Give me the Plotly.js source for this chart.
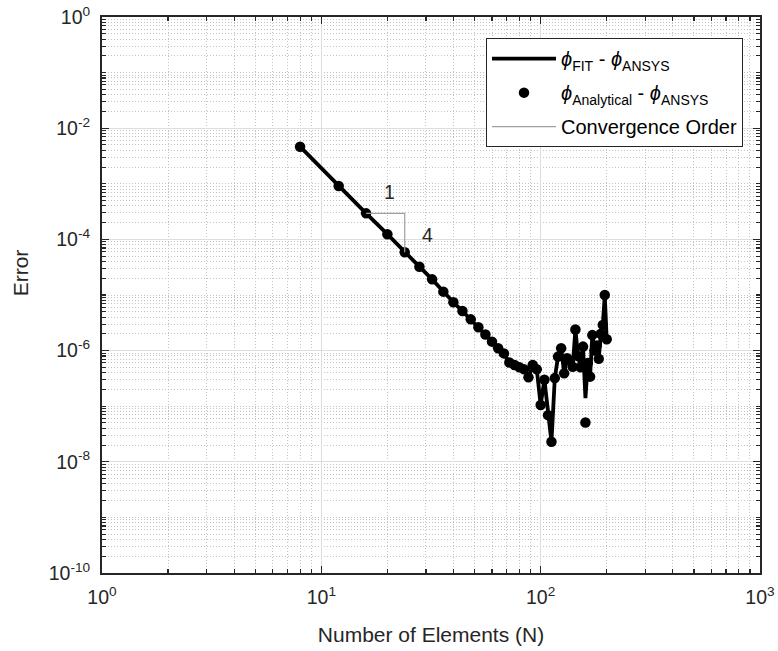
<!DOCTYPE html>
<html><head><meta charset="utf-8">
<script src="https://cdn.plot.ly/plotly-3.0.1.min.js"></script>
<style>html,body{margin:0;padding:0;background:#fff}</style>
</head><body><div id="chart" style="width:778px;height:651px"></div>
<script>
// Number of elements
const N = [8,12,16,20,24,28,32,36,40,44,48,52,56,60,64,68,72,76,80,84,88,92,96,
  100,104,108,112,116,120,124,128,132,136,140,144,148,152,156,160,164,168,172,176,180,184,188,192,196,200];
// phi_FIT - phi_ANSYS (line)
const errFit = [4.65e-3,9.1e-4,2.94e-4,1.24e-4,5.86e-5,3.23e-5,1.91e-5,1.15e-5,7.4e-6,5.15e-6,3.65e-6,2.63e-6,1.95e-6,1.45e-6,1.1e-6,8.9e-7,6.1e-7,5.5e-7,5.0e-7,4.6e-7,3.3e-7,5.5e-7,4.6e-7,
  1.05e-7,3.0e-7,6.9e-8,2.3e-8,3.2e-7,7.8e-7,1.1e-6,3.9e-7,7.3e-7,6.6e-7,5.1e-7,2.4e-6,8.0e-7,5.0e-7,1.18e-6,1.4e-7,6.0e-7,3.4e-7,1.9e-6,1.0e-6,1.24e-6,7.1e-7,2.0e-6,2.9e-6,1.0e-5,1.6e-6];
// phi_Analytical - phi_ANSYS (markers)
const errAnalytical = [4.65e-3,9.1e-4,2.94e-4,1.24e-4,5.86e-5,3.23e-5,1.91e-5,1.15e-5,7.4e-6,5.15e-6,3.65e-6,2.63e-6,1.95e-6,1.45e-6,1.1e-6,8.9e-7,6.1e-7,5.5e-7,5.0e-7,4.6e-7,3.3e-7,5.5e-7,4.6e-7,
  1.05e-7,3.0e-7,6.9e-8,2.3e-8,3.2e-7,7.8e-7,1.1e-6,3.9e-7,7.3e-7,6.6e-7,5.1e-7,2.4e-6,8.0e-7,5.0e-7,1.18e-6,5.1e-8,6.0e-7,3.4e-7,1.9e-6,1.0e-6,1.24e-6,7.1e-7,2.0e-6,2.9e-6,1.0e-5,1.6e-6];
// convergence-order triangle: run (N from 16 to 24), slope label values
const orderStartN = 16, orderEndN = 24;
const orderRun = '1', orderRise = '4';
// tick labels
const xTickVals = [1,10,100,1000];
const xTickText = ['10<sup>0</sup>','10<sup>1</sup>','10<sup>2</sup>','10<sup>3</sup>'];
const yTickVals = [1,1e-2,1e-4,1e-6,1e-8,1e-10];
const yTickText = ['10<sup>0</sup>','10<sup>-2</sup>','10<sup>-4</sup>','10<sup>-6</sup>','10<sup>-8</sup>','10<sup>-10</sup>'];
const names = ['<i>ϕ</i><sub>FIT</sub> - <i>ϕ</i><sub>ANSYS</sub>',
               '<i>ϕ</i><sub>Analytical</sub> - <i>ϕ</i><sub>ANSYS</sub>',
               'Convergence Order'];

const i0 = N.indexOf(orderStartN), i1 = N.indexOf(orderEndN);
const triX = [N[i0], N[i1], N[i1]];
const triY = [errAnalytical[i0], errAnalytical[i0], errAnalytical[i1]];

const xMinor = [], yMinor = [];
for (let d = 0; d < 3; d++) for (let k = 2; k <= 9; k++) xMinor.push(k * Math.pow(10, d));
for (let d = -10; d < 0; d++) for (let k = 1; k <= 9; k++) {
  if (k === 1 && d % 2 === 0) continue;
  yMinor.push(k * Math.pow(10, d));
}

const FONT = 'Liberation Sans, Arial, Helvetica, sans-serif';
const AX = '#262626';

const traces = [
  {x: N, y: errFit, mode: 'lines', name: names[0], legendgroup: 'a', line: {color: '#000', width: 3.8}},
  {x: N, y: errAnalytical, mode: 'markers', name: names[1], legendgroup: 'b', marker: {color: '#000', size: 10.5}},
  {x: triX, y: triY, mode: 'lines', name: names[2], legendgroup: 'c', line: {color: '#a0a0a0', width: 1.2}}
];

function axisBase() {
  return {
    type: 'log', ticks: 'inside', ticklen: 7, tickwidth: 1.3, tickcolor: AX,
    showline: true, linecolor: AX, linewidth: 2, mirror: 'ticks',
    showgrid: true, gridcolor: '#dedede', gridwidth: 1, zeroline: false,
    tickfont: {family: FONT, size: 19.5, color: AX},
    tickmode: 'array'
  };
}
const minorBase = {tickmode: 'array', ticks: 'inside', ticklen: 4, tickcolor: AX, tickwidth: 1.1,
                   showgrid: true, gridcolor: '#c4c4c4', griddash: '1px,2px', gridwidth: 1};
const xaxis = Object.assign(axisBase(), {
  range: [0, 3], tickvals: xTickVals, ticktext: xTickText, ticklabelstandoff: 6,
  minor: Object.assign({tickvals: xMinor}, minorBase),
  title: {text: 'Number of Elements (N)', font: {family: FONT, size: 21, color: AX}, standoff: 20}
});
const yaxis = Object.assign(axisBase(), {
  range: [-10, 0], tickvals: yTickVals, ticktext: yTickText, ticklabelstandoff: 6,
  minor: Object.assign({tickvals: yMinor}, minorBase),
  title: {text: 'Error', font: {family: FONT, size: 21, color: AX}, standoff: 14}
});

const gx = Math.sqrt(N[i0] * N[i1]);
const layout = {
  width: 778, height: 651,
  margin: {l: 102, r: 18, t: 17, b: 78},
  paper_bgcolor: '#fff', plot_bgcolor: '#fff',
  font: {family: FONT, color: AX, size: 19},
  xaxis: xaxis, yaxis: yaxis,
  showlegend: true,
  legend: {x: 0.5836, y: 0.962, xanchor: 'left', yanchor: 'top',
           bgcolor: '#fff', bordercolor: AX, borderwidth: 1,
           traceorder: 'grouped', tracegroupgap: 5,
           font: {family: FONT, size: 20, color: '#000'}, itemwidth: 64},
  annotations: [
    {x: Math.log10(gx), y: Math.log10(triY[0]), xref: 'x', yref: 'y', text: orderRun, showarrow: false,
     xshift: 4, yshift: 21, font: {family: FONT, size: 19.5, color: AX}},
    {x: Math.log10(N[i1]), y: (Math.log10(triY[1]) + Math.log10(triY[2])) / 2, xref: 'x', yref: 'y', text: orderRise,
     showarrow: false, xshift: 23, yshift: -2, font: {family: FONT, size: 19.5, color: AX}}
  ]
};
Plotly.newPlot('chart', traces, layout, {displayModeBar: false, staticPlot: true}).then(function () {
  // the reference's y label sits a little above the axis centre
  const t = document.querySelector('.ytitle');
  if (t) t.setAttribute('transform', 'translate(0,-22) ' + (t.getAttribute('transform') || ''));
});
</script></body></html>
